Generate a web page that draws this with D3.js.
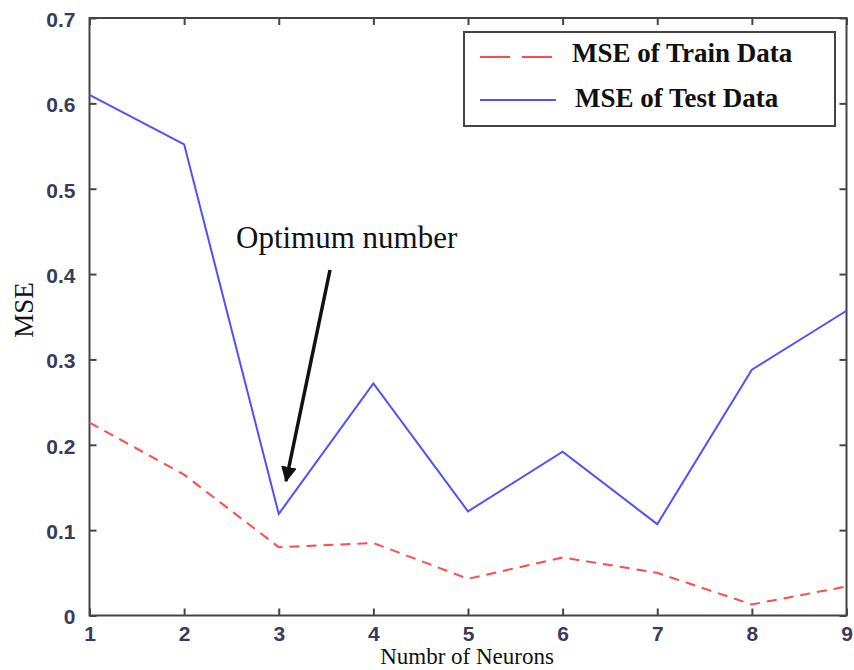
<!DOCTYPE html>
<html>
<head>
<meta charset="utf-8">
<script src="https://cdn.jsdelivr.net/npm/d3@7"></script>
<style>
  body { margin: 0; background: #fff; }
  .tick text { font-family: "Liberation Sans", Arial, sans-serif; font-weight: bold; font-size: 21px; fill: #3a3a5a; }
</style>
</head>
<body>
<script>
var neurons = [1, 2, 3, 4, 5, 6, 7, 8, 9];
var trainMSE = [0.226, 0.165, 0.080, 0.085, 0.043, 0.068, 0.050, 0.013, 0.034];
var testMSE = [0.610, 0.552, 0.119, 0.272, 0.122, 0.192, 0.107, 0.288, 0.357];
var yTicks = [0, 0.1, 0.2, 0.3, 0.4, 0.5, 0.6, 0.7];
var seriesNames = ['MSE of Train Data', 'MSE of Test Data'];

var initialize = function(){
  var screen = { width: 854, height: 670 };
  var margins = { top: 18, bottom: 54.5, left: 89.5, right: 7.5 };
  var width = screen.width - margins.left - margins.right;
  var height = screen.height - margins.top - margins.bottom;
  var serif = '"Liberation Serif", "Times New Roman", serif';

  var svg = d3.select('body')
              .append('svg')
              .attr('width', screen.width)
              .attr('height', screen.height);

  var g = svg.append('g')
             .attr('transform', 'translate(' + margins.left + ',' + margins.top + ')');

  var xScale = d3.scaleLinear().domain([1, 9]).range([0, width]);
  var yScale = d3.scaleLinear().domain([0, 0.7]).range([height, 0]);

  // axes, ticks pointing inward
  var axisColor = '#444';
  var xAxis = d3.axisBottom(xScale).tickValues(neurons).tickFormat(d3.format('d'))
                .tickSizeInner(-7).tickSizeOuter(0).tickPadding(9);
  var yAxis = d3.axisLeft(yScale).tickValues(yTicks).tickFormat(function(d){ return d === 0 ? '0' : d3.format('.1f')(d); })
                .tickSizeInner(-7).tickSizeOuter(0).tickPadding(14);
  var xTop = d3.axisTop(xScale).tickValues(neurons).tickFormat('').tickSizeInner(-7).tickSizeOuter(0);
  var yRight = d3.axisRight(yScale).tickValues(yTicks).tickFormat('').tickSizeInner(-7).tickSizeOuter(0);

  var gx = g.append('g').attr('transform', 'translate(0,' + height + ')').call(xAxis);
  var gy = g.append('g').call(yAxis);
  var gt = g.append('g').call(xTop);
  var gr = g.append('g').attr('transform', 'translate(' + width + ',0)').call(yRight);
  [gx, gy, gt, gr].forEach(function(a){
    a.select('.domain').remove();
    a.selectAll('.tick line').attr('stroke', axisColor).attr('stroke-width', 2);
  });
  gx.selectAll('.tick text').attr('dy', '0.8em');
  gy.selectAll('.tick text').attr('dy', '0.4em');

  g.append('rect')
   .attr('x', 0).attr('y', 0)
   .attr('width', width).attr('height', height)
   .attr('fill', 'none')
   .attr('stroke', axisColor)
   .attr('stroke-width', 2);

  // lines
  var drawLine = function(vals){
    return d3.line()
             .x(function(d, i){ return xScale(neurons[i]); })
             .y(function(d){ return yScale(d); })(vals);
  };

  g.append('path')
   .attr('d', drawLine(trainMSE))
   .attr('fill', 'none')
   .attr('stroke', '#ff4a4a')
   .attr('stroke-width', 2)
   .attr('stroke-dasharray', '10,7');

  g.append('path')
   .attr('d', drawLine(testMSE))
   .attr('fill', 'none')
   .attr('stroke', '#5050ff')
   .attr('stroke-width', 2);

  // annotation
  var defs = svg.append('defs');
  defs.append('marker')
      .attr('id', 'arrow')
      .attr('viewBox', '0 0 10 10')
      .attr('refX', 9).attr('refY', 5)
      .attr('markerWidth', 4.5).attr('markerHeight', 4.5)
      .attr('orient', 'auto')
      .append('path')
      .attr('d', 'M0,0 L10,5 L0,10 z')
      .attr('fill', '#111');

  svg.append('text')
     .attr('x', 236).attr('y', 248)
     .attr('font-family', serif)
     .attr('font-size', 31)
     .attr('fill', '#111')
     .text('Optimum number');

  svg.append('line')
     .attr('x1', 330).attr('y1', 270)
     .attr('x2', 286).attr('y2', 481)
     .attr('stroke', '#111')
     .attr('stroke-width', 3.5)
     .attr('marker-end', 'url(#arrow)');

  // legend
  var legend = svg.append('g');
  legend.append('rect')
        .attr('x', 464).attr('y', 32)
        .attr('width', 371).attr('height', 94)
        .attr('fill', '#fff')
        .attr('stroke', axisColor)
        .attr('stroke-width', 2);
  var legendStyles = [
    { color: '#ff4a4a', dash: '30,12', y: 57, tx: 572, ty: 62 },
    { color: '#5050ff', dash: null, y: 100, tx: 575, ty: 107 }
  ];
  seriesNames.forEach(function(name, i){
    var s = legendStyles[i];
    legend.append('line')
          .attr('x1', 480).attr('x2', 556)
          .attr('y1', s.y).attr('y2', s.y)
          .attr('stroke', s.color)
          .attr('stroke-width', 2)
          .attr('stroke-dasharray', s.dash);
    legend.append('text')
          .attr('x', s.tx).attr('y', s.ty)
          .attr('font-family', serif)
          .attr('font-weight', 'bold')
          .attr('font-size', 27)
          .attr('fill', '#111')
          .text(name);
  });

  // axis titles
  svg.append('text')
     .attr('x', 467).attr('y', 664)
     .attr('text-anchor', 'middle')
     .attr('font-family', serif)
     .attr('font-size', 23)
     .attr('fill', '#111')
     .text('Numbr of Neurons');

  svg.append('text')
     .attr('transform', 'translate(33,310) rotate(-90)')
     .attr('text-anchor', 'middle')
     .attr('font-family', serif)
     .attr('font-size', 27)
     .attr('fill', '#111')
     .text('MSE');
}

initialize();
</script>
</body>
</html>
